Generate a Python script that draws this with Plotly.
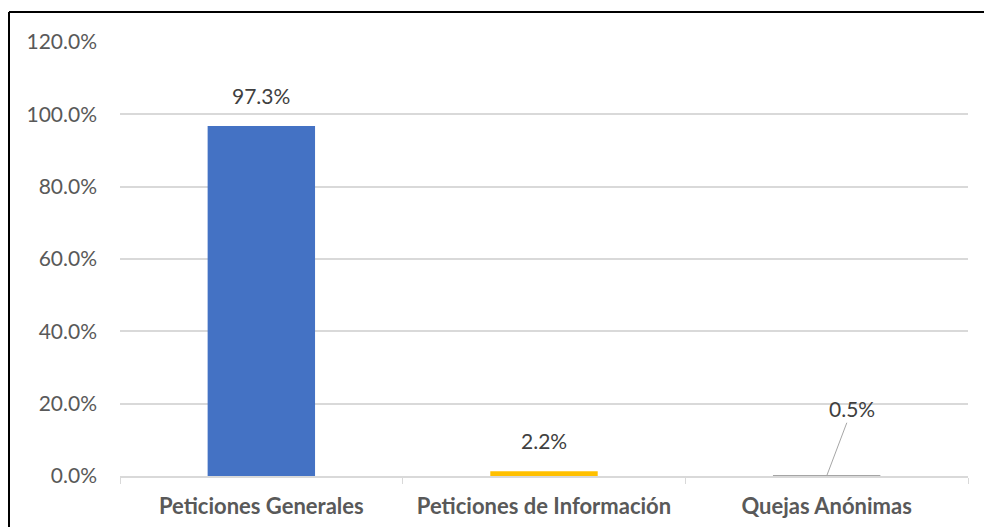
import plotly.graph_objects as go

categories = ["Peticiones Generales", "Peticiones de Información", "Quejas Anónimas"]
bar_values = [96.8, 1.3, 0.05]
label_values = [97.3, 2.2, 0.5]
colors = ["#4472C4", "#FFC000", "#A5A5A5"]
y_ticks = [0, 20, 40, 60, 80, 100, 120]

FONT = "Lato"
labels = [f"{v:.1f}%" for v in label_values]

fig = go.Figure()
fig.add_trace(go.Bar(
    x=categories,
    y=bar_values,
    marker=dict(color=colors, line=dict(width=0)),
    width=0.38,
    hoverinfo="skip",
))

# data labels above the two visible bars
for i in range(2):
    fig.add_annotation(
        x=categories[i], y=bar_values[i], xref="x", yref="y",
        text=labels[i], showarrow=False,
        yanchor="bottom", yshift=16,
        font=dict(family=FONT, size=21, color="#404040"),
    )

# leader-line label for the smallest bar
fig.add_annotation(
    x=categories[2], y=0,
    ax=2.09, ay=18.6, axref="x", ayref="y",
    xref="x", yref="y",
    text=labels[2],
    showarrow=True, arrowhead=0, arrowwidth=1, arrowcolor="#A6A6A6",
    standoff=0, startstandoff=0,
    font=dict(family=FONT, size=21, color="#404040"),
)

# outer frame (top and left edges visible)
fx0 = -111 / 848
fy1 = 1.0691
fig.add_shape(type="line", xref="paper", yref="paper",
              x0=fx0, x1=1.1, y0=fy1, y1=fy1,
              line=dict(color="#000000", width=2), layer="above")
fig.add_shape(type="line", xref="paper", yref="paper",
              x0=fx0, x1=fx0, y0=-0.2, y1=fy1,
              line=dict(color="#000000", width=2), layer="above")

fig.update_layout(
    width=984, height=527,
    margin=dict(l=120, r=16, t=42, b=51, autoexpand=False),
    paper_bgcolor="white", plot_bgcolor="white",
    showlegend=False,
    xaxis=dict(
        showgrid=False,
        ticks="outside", tickson="boundaries", ticklen=6, tickcolor="#D9D9D9",
        showline=True, linecolor="#D9D9D9", linewidth=1.5,
        ticklabelstandoff=10,
        tickfont=dict(family=FONT, size=22, color="#595959", weight="bold"),
    ),
    yaxis=dict(
        range=[0, 120],
        tickvals=y_ticks,
        ticktext=[f"{v:.1f}%" for v in y_ticks],
        showgrid=True, gridcolor="#D9D9D9", gridwidth=1.5,
        zeroline=False, showline=False, ticks="",
        ticklabelstandoff=22,
        tickfont=dict(family=FONT, size=21, color="#595959"),
    ),
)

fig.write_html(
    "out.html",
    config={"displayModeBar": False},
    post_script="document.body.style.margin='0';document.body.style.overflow='hidden';",
)
